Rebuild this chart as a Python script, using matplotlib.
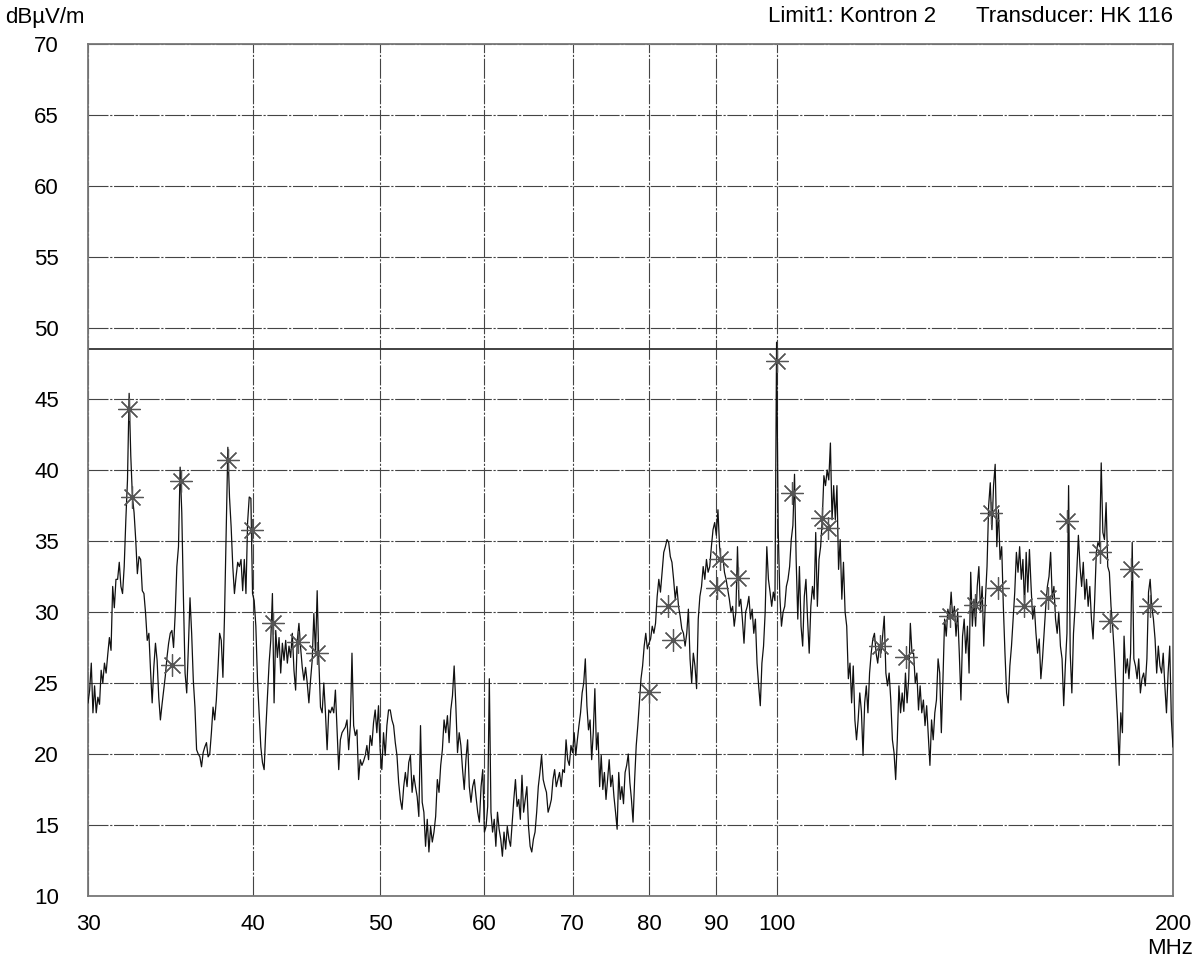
import numpy as np
import matplotlib
matplotlib.use("Agg")
import matplotlib.pyplot as plt

plt.rcParams['font.family'] = ['Liberation Sans', 'DejaVu Sans']

lv_30_40 = [23.6, 24.5, 26.4, 22.9, 24.8, 22.9, 24.0, 23.5, 25.9, 25.0, 26.4, 25.7, 27.0, 28.2, 27.3,
            31.8, 30.3, 32.3, 32.3, 33.5, 31.8, 31.3, 33.2, 36.5, 39.3, 45.4, 41.0, 38.1, 37.0, 35.1,
            32.7, 33.9, 33.7, 31.5, 31.3, 29.9, 28.0, 28.5, 25.9, 23.6, 26.1, 27.8, 26.6, 24.0, 22.4,
            23.5, 24.5, 25.5, 26.8, 27.8, 28.5, 28.7, 27.5, 29.9, 33.2, 34.6, 40.2, 37.0, 31.0, 25.7,
            24.3, 27.5, 31.0, 28.5, 25.2, 23.3, 20.3, 20.0, 19.8, 19.1, 20.1, 20.5, 20.8, 19.8, 20.0,
            21.5, 23.3, 22.4, 23.8, 26.0, 28.5, 28.0, 25.4, 29.9, 35.8, 41.6, 38.1, 36.0, 33.2, 31.3,
            32.5, 33.5, 33.2, 33.7, 31.5, 33.7, 31.3, 36.3, 38.1, 38.0]
lv_40_50 = [31.3, 30.8, 29.0, 25.2, 22.9, 20.5, 19.4, 18.9, 21.7, 24.0, 26.4, 28.0, 31.3, 23.6, 28.7,
            26.8, 28.2, 25.7, 27.8, 26.6, 28.0, 26.4, 27.6, 26.8, 28.5, 25.9, 24.5, 28.0, 29.2, 27.5,
            26.1, 25.2, 26.1, 25.0, 23.6, 25.2, 26.6, 29.9, 27.1, 31.5, 26.6, 23.3, 22.9, 25.0, 22.9,
            20.3, 23.1, 22.9, 23.3, 22.9, 24.5, 21.7, 18.9, 21.0, 21.5, 21.7, 21.9, 22.4, 20.3, 22.0,
            27.1, 22.0, 21.3, 21.7, 18.2, 19.6, 19.2, 19.5, 19.9, 20.6, 19.6, 21.3, 20.6, 22.2, 23.1,
            21.5, 23.4]
lv_50_60 = [20.3, 18.9, 21.5, 19.9, 22.0, 23.1, 23.1, 22.4, 22.0, 20.8, 19.9, 18.0, 16.8, 16.1, 17.7,
            18.7, 17.7, 19.4, 19.9, 17.3, 18.5, 17.7, 17.0, 15.6, 22.0, 16.6, 15.9, 13.5, 15.4, 13.1,
            14.9, 13.8, 14.5, 15.6, 18.2, 17.3, 19.2, 20.3, 22.4, 21.5, 22.7, 20.8, 23.1, 24.1, 26.2,
            23.4, 20.1, 21.5, 20.6, 18.9, 17.5, 19.6, 21.0, 17.7, 16.6, 17.7, 18.2, 17.0, 15.9, 15.2,
            17.7, 18.9]
lv_60_70 = [14.5, 14.9, 16.3, 25.3, 15.9, 14.5, 15.4, 13.5, 15.9, 14.7, 14.0, 12.8, 14.5, 13.3, 14.9,
            14.0, 13.5, 15.2, 16.8, 18.2, 16.3, 16.8, 15.4, 18.5, 15.9, 16.8, 17.7, 14.9, 13.5, 13.1,
            14.0, 14.5, 15.9, 17.7, 18.7, 19.9, 18.2, 17.7, 17.3, 15.9, 16.3, 16.8, 18.2, 18.9, 17.7,
            18.2, 18.7, 17.7, 18.9, 18.7, 21.0, 19.6, 19.2, 20.6]
lv_70_80 = [20.1, 21.5, 19.9, 21.0, 22.0, 22.9, 24.3, 25.0, 26.7, 23.4, 21.7, 22.4, 19.6, 21.5, 24.6,
            20.3, 21.5, 17.7, 19.9, 17.5, 18.7, 16.8, 18.2, 19.6, 17.7, 18.5, 17.0, 15.9, 14.7, 18.7,
            16.8, 17.7, 16.5, 18.7, 19.2, 20.0, 18.0, 16.8, 15.2, 18.2, 20.6, 22.0, 23.6, 25.3, 26.2,
            27.6, 28.5, 27.4]
lv_80_90 = [27.8, 28.1, 29.0, 28.5, 29.2, 31.1, 32.3, 31.4, 32.8, 34.2, 34.6, 35.1, 34.9, 33.9, 33.5,
            32.3, 30.9, 31.8, 30.4, 29.7, 28.8, 28.5, 27.6, 28.5, 30.2, 26.7, 25.0, 27.1, 26.2, 24.6,
            29.5, 31.1, 31.8, 33.2, 32.3, 33.7, 32.8, 33.2, 34.6, 35.8, 36.3]
lv_90_100 = [35.4, 37.2, 34.6, 33.5, 33.9, 32.8, 32.3, 31.6, 30.9, 30.0, 30.4, 29.0, 30.0, 34.6, 30.4,
             30.9, 29.5, 27.8, 30.0, 30.4, 31.1, 29.5, 30.2, 28.5, 29.5, 26.4, 24.8, 23.4, 26.4, 27.6,
             30.0, 34.6, 32.3, 31.4, 30.4, 31.4, 30.8]
lv_100_200 = [49.0, 35.8, 31.1,
              29.0, 30.0, 30.4, 31.8, 32.3, 33.2, 35.1, 36.1, 39.7, 33.7, 29.5, 33.2, 29.0, 27.6, 31.1,
              32.3, 29.5, 27.1, 30.4, 31.8, 30.9, 35.6, 30.4, 33.7, 34.6, 36.5, 39.6, 38.9, 40.0, 39.3,
              41.9, 36.5, 38.9, 36.5, 38.9, 33.0, 35.1, 30.9, 33.5, 30.0, 29.0, 25.3, 26.4, 23.6, 26.2,
              22.4, 21.0, 22.4, 24.3, 23.0, 19.9, 23.6, 24.8, 22.9, 25.7, 27.1, 28.1, 28.5, 27.1, 26.4,
              27.6, 27.1, 28.3, 29.7, 25.7, 24.8, 25.7, 23.8, 21.0, 20.1, 18.2, 21.0, 24.8, 22.9, 24.3,
              23.0, 25.7, 23.6, 25.3, 29.2, 27.1, 27.1, 25.0, 25.7, 23.1, 24.8, 22.9, 23.8, 22.0, 23.4,
              21.3, 19.2, 22.4, 21.0, 22.9, 23.8, 26.7, 25.7, 21.5, 25.3, 29.5, 28.3, 30.2, 29.5, 31.4,
              29.5, 30.4, 28.3, 30.0, 27.1, 23.8, 28.3, 29.5,
              27.1, 29.0, 25.7, 32.8, 29.0, 30.9, 29.0, 31.8, 33.2, 30.0, 31.8, 27.6, 30.9, 33.2, 37.5,
              39.1, 35.8, 38.9, 40.4, 34.6, 37.2, 33.7, 34.6, 30.4, 27.1, 24.3, 23.6, 26.2, 27.6, 29.5,
              31.4, 34.2, 32.8, 34.6, 32.3, 33.7, 30.4, 34.2, 31.4, 34.4, 31.8, 29.5, 30.4, 28.5, 27.1,
              28.1, 25.3, 26.7, 28.5, 30.4, 31.8, 32.5, 34.2, 30.9, 31.8, 29.5, 28.5, 30.0, 27.6, 26.7,
              23.4, 26.2, 28.5, 38.9, 27.1, 24.3, 28.5, 30.4, 32.8, 35.4, 33.2, 31.8, 33.5, 30.9, 32.3,
              30.4, 31.8, 29.5, 28.1, 30.9, 34.2, 34.9, 34.6, 40.5, 35.6, 35.1, 37.7, 33.2, 32.8, 30.4,
              29.0, 27.1, 24.8, 22.4, 19.2, 22.9, 21.5, 28.3, 25.7, 26.7, 25.3, 27.1, 34.9, 26.7, 26.2,
              25.3, 26.7, 24.3, 25.3, 25.7, 24.8, 26.7, 31.4, 32.3, 30.4, 29.5, 28.1, 25.7, 27.6, 26.2,
              25.7, 27.1, 24.8, 22.9, 25.7, 27.6, 22.4, 20.5]

bands = [(30, 40, lv_30_40), (40, 50, lv_40_50), (50, 60, lv_50_60), (60, 70, lv_60_70),
         (70, 80, lv_70_80), (80, 90, lv_80_90), (90, 100, lv_90_100), (100, 200, lv_100_200)]

# final measurement points (asterisks)
peak_mhz = [32.23, 32.40, 34.75, 35.30, 38.32, 39.96, 41.46, 43.31, 44.77, 80.0, 82.7, 83.5,
            90.05, 90.6, 93.5, 100.0, 102.8, 108.2, 109.4, 119.8, 125.4, 135.4, 141.5, 145.4,
            147.4, 154.0, 160.8, 166.1, 176.0, 179.2, 185.8, 192.1]
peak_db = [44.3, 38.1, 26.3, 39.2, 40.7, 35.8, 29.2, 27.9, 27.1, 24.4, 30.4, 28.0,
           31.7, 33.7, 32.4, 47.7, 38.4, 36.6, 35.9, 27.6, 26.8, 29.7, 30.5, 37.0,
           31.7, 30.4, 31.0, 36.4, 34.2, 29.4, 33.0, 30.4]

limit_db = 48.5
x_ticks = [30, 40, 50, 60, 70, 80, 90, 100, 200]
y_ticks = list(range(10, 71, 5))

# sweep frequencies of each band (receiver steps evenly on the log axis)
freq = []
level = []
for i, (lo, hi, vals) in enumerate(bands):
    last = i == len(bands) - 1
    freq.extend(np.geomspace(lo, hi, len(vals), endpoint=last))
    level.extend(vals)

fig = plt.figure(figsize=(11.95, 9.61), dpi=100)
ax = fig.add_axes([88/1195, 1 - 896/961, (1173-88)/1195, (896-44)/961])

ax.set_xscale('log')
ax.set_xlim(30, 200)
ax.set_ylim(10, 70)

ax.plot(freq, level, color='#111111', lw=0.9, zorder=3)
ax.axhline(limit_db, color='#333333', lw=1.3, zorder=2)
ax.plot(peak_mhz, peak_db, ls='none', marker=(8, 2, 0), ms=16, mew=0.9,
        color='#555555', zorder=4)

ax.set_xticks(x_ticks)
ax.set_xticklabels([str(t) for t in x_ticks])
ax.xaxis.set_minor_locator(matplotlib.ticker.NullLocator())
ax.set_yticks(y_ticks)
ax.tick_params(axis='both', length=0, labelsize=16)
ax.tick_params(axis='x', pad=13)
ax.tick_params(axis='y', pad=21)
ax.grid(True, color='#444444', lw=0.8, ls=(0, (18, 1.5, 2, 1.5)))
ax.set_axisbelow(True)
for s in ax.spines.values():
    s.set_color('#777777')
    s.set_linewidth(1.3)

fig.text(5/1195, 1 - 17/961, 'dBµV/m', fontsize=16, ha='left', va='center')
fig.text(936/1195, 1 - 17/961, 'Limit1: Kontron 2', fontsize=16, ha='right', va='center')
fig.text(1173/1195, 1 - 17/961, 'Transducer: HK 116', fontsize=16, ha='right', va='center')
fig.text(1193/1195, 1 - 948/961, 'MHz', fontsize=16, ha='right', va='center')

fig.savefig('out.png', dpi=100)
